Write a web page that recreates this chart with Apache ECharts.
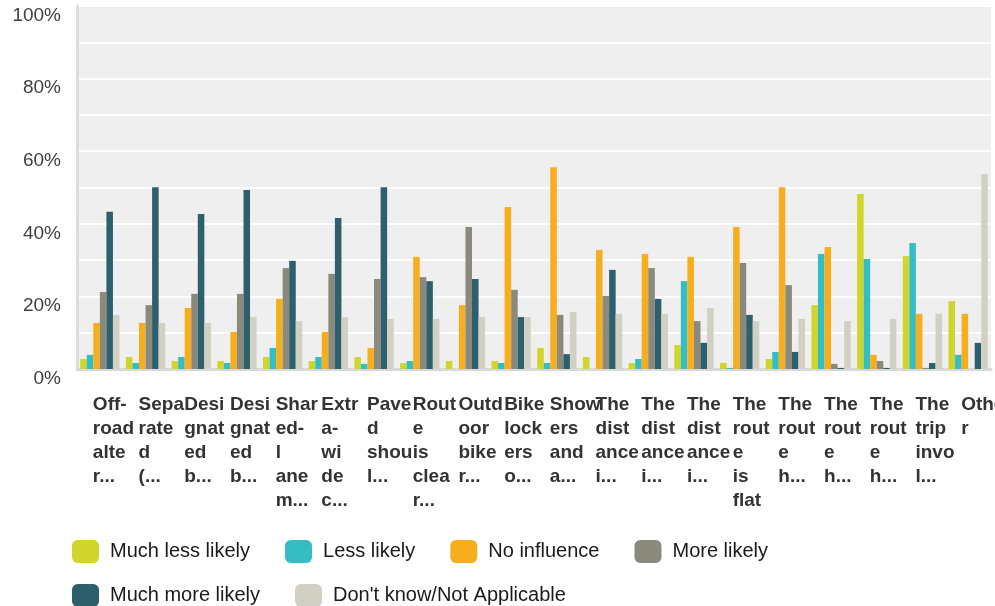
<!DOCTYPE html>
<html>
<head>
<meta charset="utf-8">
<script src="https://cdn.jsdelivr.net/npm/echarts@6/dist/echarts.min.js"></script>
<style>
html,body{margin:0;padding:0;background:#fff;}
#chart{width:995px;height:606px;}
</style>
</head>
<body>
<div id="chart"></div>
<script>
const categories = [
  "Off-\nroad\nalte\nr...",
  "Sepa\nrate\nd\n(...",
  "Desi\ngnat\ned\nb...",
  "Desi\ngnat\ned\nb...",
  "Shar\ned-\nl\nane\nm...",
  "Extr\na-\nwi\nde\nc...",
  "Pave\nd\nshou\nl...",
  "Rout\ne\nis\nclea\nr...",
  "Outd\noor\nbike\nr...",
  "Bike\nlock\ners\no...",
  "Show\ners\nand\na...",
  "The\ndist\nance\ni...",
  "The\ndist\nance\ni...",
  "The\ndist\nance\ni...",
  "The\nrout\ne\nis\nflat",
  "The\nrout\ne\nh...",
  "The\nrout\ne\nh...",
  "The\nrout\ne\nh...",
  "The\ntrip\ninvo\nl...",
  "Othe\nr"
];
const seriesNames = ["Much less likely", "Less likely", "No influence", "More likely", "Much more likely", "Don't know/Not Applicable"];
const muchLessLikely = [2.75, 3.3, 2.2, 2.2, 3.3, 2.2, 3.3, 1.65, 2.2, 2.2, 5.8, 3.3, 1.65, 6.6, 1.65, 2.75, 17.6, 48.2, 31.1, 18.7];
const lessLikely = [3.9, 1.65, 3.3, 1.65, 5.8, 3.3, 1.4, 2.2, 0, 1.65, 1.65, 0, 2.75, 24.2, 0.3, 4.7, 31.7, 30.3, 34.7, 3.9];
const noInfluence = [12.7, 12.7, 16.8, 10.2, 19.3, 10.2, 5.8, 30.9, 17.6, 44.6, 55.6, 32.8, 31.7, 30.9, 39.1, 50.1, 33.6, 3.9, 15.2, 15.2];
const moreLikely = [21.2, 17.6, 20.7, 20.7, 27.8, 26.2, 24.8, 25.3, 39.1, 21.8, 14.9, 20.1, 27.8, 13.2, 29.2, 23.1, 1.4, 2.2, 0.3, 0];
const muchMoreLikely = [43.3, 50.1, 42.7, 49.3, 29.8, 41.6, 50.1, 24.2, 24.8, 14.3, 4.1, 27.3, 19.3, 7.2, 14.9, 4.7, 0.3, 0.3, 1.65, 7.2];
const dontKnow = [14.9, 12.7, 12.7, 14.3, 13.2, 14.3, 13.8, 13.8, 14.3, 14.3, 15.7, 15.2, 15.2, 16.8, 13.2, 13.8, 13.2, 13.8, 15.2, 53.7];

const colors = ["#cfd52a", "#35bec1", "#f6ae1f", "#898a7b", "#2e5f6c", "#d1d0c3"];
const allData = [muchLessLikely, lessLikely, noInfluence, moreLikely, muchMoreLikely, dontKnow];

const chart = echarts.init(document.getElementById('chart'));
const legendCommon = {
  left: 72,
  padding: 0,
  itemWidth: 27,
  itemHeight: 23,
  itemGap: 35,
  icon: 'roundRect',
  textStyle: { fontFamily: 'Liberation Sans, Arial, sans-serif', fontSize: 20, color: '#1a1a1a', padding: [0, 0, 0, 6] }
};
chart.setOption({
  animation: false,
  color: colors,
  grid: { left: 77, right: 4, top: 6, bottom: 237, show: true, backgroundColor: '#efefef', borderWidth: 0, containLabel: false, outerBoundsMode: 'none' },
  legend: [
    Object.assign({}, legendCommon, { top: 540, data: seriesNames.slice(0, 4) }),
    Object.assign({}, legendCommon, { top: 584, data: seriesNames.slice(4) })
  ],
  xAxis: {
    type: 'category',
    data: categories,
    axisLine: { show: true, lineStyle: { color: '#d9d9d9', width: 3 } },
    axisTick: { show: false },
    axisLabel: {
      interval: 0,
      align: 'left',
      verticalAlign: 'top',
      margin: 24,
      padding: [0, 0, 0, -7],
      hideOverlap: false,
      fontFamily: 'Liberation Sans, Arial, sans-serif',
      fontWeight: 'bold',
      fontSize: 19,
      lineHeight: 24,
      color: '#333333'
    }
  },
  yAxis: {
    type: 'value',
    min: 0,
    max: 100,
    interval: 10,
    axisLine: { show: true, lineStyle: { color: '#dcdcdc', width: 3 } },
    axisTick: { show: false },
    splitLine: { show: true, lineStyle: { color: '#ffffff', width: 2 } },
    axisLabel: {
      formatter: v => (v % 20 === 0 ? v + '%' : ''),
      margin: 16,
      verticalAlign: 'top',
      fontFamily: 'Liberation Sans, Arial, sans-serif',
      fontSize: 19,
      color: '#404040'
    }
  },
  series: seriesNames.map((name, i) => ({
    name: name,
    type: 'bar',
    data: allData[i],
    barGap: '0%',
    barCategoryGap: '14%'
  }))
});
</script>
</body>
</html>
